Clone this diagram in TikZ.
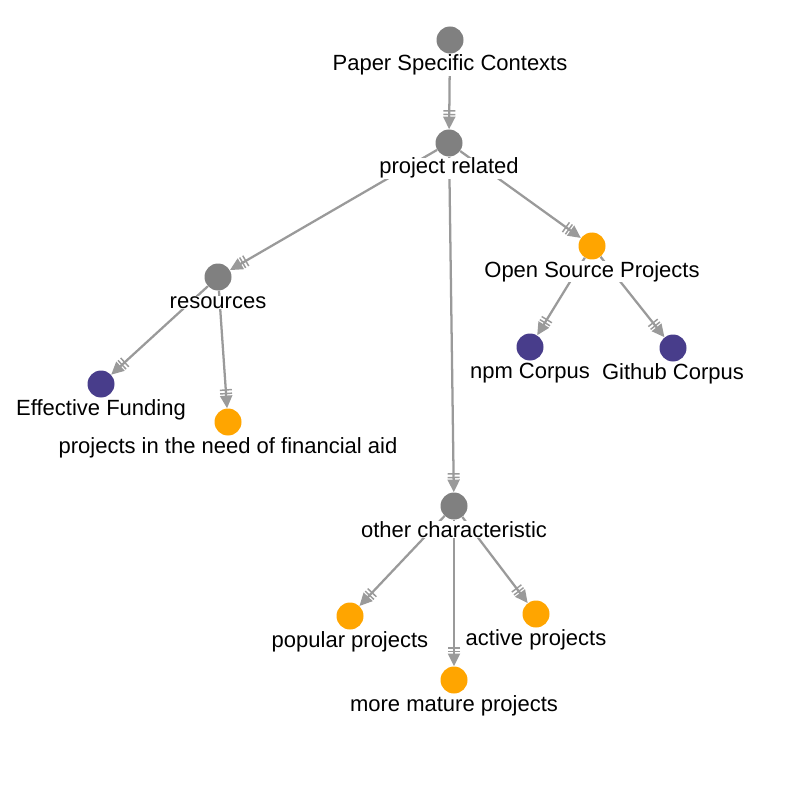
\documentclass[tikz,border=0pt]{standalone}
\usepackage{fontspec}
\setmainfont{Liberation Sans}
\usetikzlibrary{arrows.meta,backgrounds}

\definecolor{ctxgray}{HTML}{808080}
\definecolor{projorange}{HTML}{FFA500}
\definecolor{corpuspurple}{HTML}{483D8B}
\definecolor{linkgray}{HTML}{9A9A9A}

\tikzset{
  dot/.style={circle, minimum size=20.25pt, inner sep=0pt},
  ctx/.style={dot, fill=ctxgray},
  proj/.style={dot, fill=projorange},
  corpus/.style={dot, fill=corpuspurple},
  lbl/.style={anchor=base, fill=white, inner sep=0.3pt, font=\fontsize{16.5}{19}\selectfont},
  link/.style={draw=linkgray, line width=1.7pt,
    -{Bar[width=9pt,line width=1.1pt,sep=1.6pt]Bar[width=9pt,line width=1.1pt,sep=1pt]Triangle[length=9.5pt,width=9pt]}}
}

\begin{document}
\begin{tikzpicture}[x=0.75pt, y=-0.75pt]
    \useasboundingbox (0,0) rectangle (800,795);

    % Context nodes
    \node[ctx] (paper) at (450,40) {};
    \node[ctx] (related) at (449,143) {};
    \node[ctx] (resources) at (218,277) {};
    \node[ctx] (other) at (454,506) {};

    % Project nodes
    \node[proj] (oss) at (592,246) {};
    \node[proj] (needaid) at (228,422) {};
    \node[proj] (popular) at (350,616) {};
    \node[proj] (active) at (536,614) {};
    \node[proj] (mature) at (454,680) {};

    % Corpus nodes
    \node[corpus] (npm) at (530,347) {};
    \node[corpus] (github) at (673,348) {};
    \node[corpus] (funding) at (101,384) {};

    % Draw links behind the labels
    \begin{scope}[on background layer]
      \draw[link] (paper) -- (related);
      \draw[link] (related) -- (resources);
      \draw[link] (related) -- (oss);
      \draw[link] (related) -- (other);
      \draw[link] (resources) -- (funding);
      \draw[link] (resources) -- (needaid);
      \draw[link] (oss) -- (npm);
      \draw[link] (oss) -- (github);
      \draw[link] (other) -- (popular);
      \draw[link] (other) -- (mature);
      \draw[link] (other) -- (active);
    \end{scope}

    % Labels below the dots
    \node[lbl] (paperL) at (450,71) {Paper Specific Contexts};
    \node[lbl] (relatedL) at (449,174) {project related};
    \node[lbl] (resourcesL) at (218,308) {resources};
    \node[lbl] (otherL) at (454,537) {other characteristic};
    \node[lbl] (ossL) at (592,277) {Open Source Projects};
    \node[lbl] (needaidL) at (228,453) {projects in the need of financial aid};
    \node[lbl] (popularL) at (350,647) {popular projects};
    \node[lbl] (activeL) at (536,645) {active projects};
    \node[lbl] (matureL) at (454,711) {more mature projects};
    \node[lbl] (npmL) at (530,378) {npm Corpus};
    \node[lbl] (githubL) at (673,379) {Github Corpus};
    \node[lbl] (fundingL) at (101,415) {Effective Funding};

\end{tikzpicture}
\end{document}
